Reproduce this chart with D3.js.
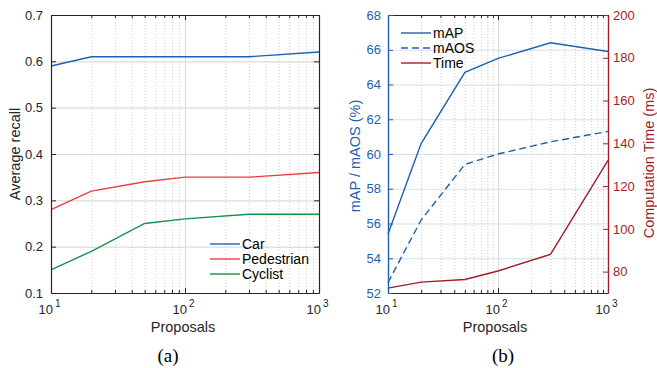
<!DOCTYPE html>
<html>
<head>
<meta charset="utf-8">
<script src="https://cdn.jsdelivr.net/npm/d3@7"></script>
<style>
  body { margin: 0; background: #fff; }
  text { font-family: "Liberation Sans", Arial, sans-serif; }
</style>
</head>
<body>
<script>
// data
var proposals = [10, 20, 50, 100, 300, 1000];
var carRecall = [0.59, 0.61, 0.61, 0.61, 0.61, 0.62];
var pedRecall = [0.28, 0.32, 0.34, 0.35, 0.35, 0.36];
var cycRecall = [0.15, 0.19, 0.25, 0.26, 0.27, 0.27];
var mapVals = [55.4, 60.6, 64.7, 65.5, 66.4, 65.9];
var maosVals = [52.6, 56.2, 59.4, 60.0, 60.7, 61.3];
var timeVals = [72.3, 75.1, 76.3, 80.3, 88.1, 132];

var decadeTicks = [10, 100, 1000];
var minorTicks = [20, 30, 40, 50, 60, 70, 80, 90, 200, 300, 400, 500, 600, 700, 800, 900];
var recallTicks = [0.1, 0.2, 0.3, 0.4, 0.5, 0.6, 0.7];
var mapTicks = [52, 54, 56, 58, 60, 62, 64, 66, 68];
var timeTicks = [80, 100, 120, 140, 160, 180, 200];

var axisGray = "#262626";
var blue = "#1f5fb0";
var red = "#a21d2a";

var svg = d3.select("body").append("svg").attr("width", 657).attr("height", 368);

var plotTop = 15, plotBottom = 293;

function xGrid(g, x, h) {
    g.append("g").attr("transform", "translate(0," + plotBottom + ")")
        .call(d3.axisBottom(x).tickValues(minorTicks).tickSize(-h).tickFormat(""))
        .call(function (s) {
            s.select(".domain").remove();
            s.selectAll("line").attr("stroke", "#cfcfcf").attr("stroke-dasharray", "1,2");
        });
    g.append("g").attr("transform", "translate(0," + plotBottom + ")")
        .call(d3.axisBottom(x).tickValues([100]).tickSize(-h).tickFormat(""))
        .call(function (s) {
            s.select(".domain").remove();
            s.selectAll("line").attr("stroke", "#dcdcdc").attr("stroke-width", 1.2);
        });
}

function xAxes(g, x) {
    // bottom axis, inward ticks
    var b = g.append("g").attr("transform", "translate(0," + plotBottom + ")");
    b.call(d3.axisBottom(x).tickValues(decadeTicks).tickSizeInner(-5).tickSizeOuter(0).tickFormat(""));
    b.append("g").call(d3.axisBottom(x).tickValues(minorTicks).tickSizeInner(-3).tickSizeOuter(0).tickFormat(""))
        .select(".domain").remove();
    b.selectAll("line").attr("stroke", axisGray);
    b.select(".domain").attr("stroke", axisGray).attr("stroke-width", 1.2);
    b.selectAll(".tick").filter(function (d) { return decadeTicks.indexOf(d) >= 0; })
        .append("text")
        .attr("y", 21).attr("fill", axisGray).attr("font-size", 13).attr("text-anchor", "middle")
        .each(function (d) {
            var t = d3.select(this);
            t.append("tspan").attr("dx", -2).text("10");
            t.append("tspan").attr("dy", -7).attr("font-size", 10).attr("dx", 2)
                .text(Math.round(Math.log10(d)));
        });
    // top axis
    var t = g.append("g").attr("transform", "translate(0," + plotTop + ")");
    t.call(d3.axisTop(x).tickValues(decadeTicks).tickSizeInner(-5).tickSizeOuter(0).tickFormat(""));
    t.append("g").call(d3.axisTop(x).tickValues(minorTicks).tickSizeInner(-3).tickSizeOuter(0).tickFormat(""))
        .select(".domain").remove();
    t.selectAll("line").attr("stroke", axisGray);
    t.select(".domain").attr("stroke", axisGray).attr("stroke-width", 1.2);
}

function lineFor(x, y) {
    return d3.line().x(function (d) { return x(d[0]); }).y(function (d) { return y(d[1]); });
}

// ---------- panel (a) ----------
var ga = svg.append("g");
var xa = d3.scaleLog().domain([10, 1000]).range([51, 319]);
var ya = d3.scaleLinear().domain([0.1, 0.7]).range([plotBottom, plotTop]);

ga.append("g").attr("transform", "translate(51,0)")
    .call(d3.axisLeft(ya).tickValues(recallTicks).tickSize(-268).tickFormat(""))
    .call(function (s) {
        s.select(".domain").remove();
        s.selectAll("line").attr("stroke", "#dcdcdc").attr("stroke-width", 1.2);
    });
xGrid(ga, xa, plotBottom - plotTop);

var seriesA = [
    { name: "Car", vals: carRecall, color: blue },
    { name: "Pedestrian", vals: pedRecall, color: "#f03c3c" },
    { name: "Cyclist", vals: cycRecall, color: "#12924a" }
];
seriesA.forEach(function (s) {
    ga.append("path")
        .datum(proposals.map(function (p, i) { return [p, s.vals[i]]; }))
        .attr("d", lineFor(xa, ya))
        .attr("fill", "none").attr("stroke", s.color).attr("stroke-width", 1.4);
});

xAxes(ga, xa);
var la = ga.append("g").attr("transform", "translate(51,0)")
    .call(d3.axisLeft(ya).tickValues(recallTicks).tickSizeInner(-5).tickSizeOuter(0).tickPadding(8)
        .tickFormat(d3.format(".1f")));
la.select(".domain").attr("stroke", axisGray).attr("stroke-width", 1.2);
la.selectAll("line").attr("stroke", axisGray);
la.selectAll("text").attr("fill", axisGray).attr("font-size", 13);
var ra = ga.append("g").attr("transform", "translate(319,0)")
    .call(d3.axisRight(ya).tickValues(recallTicks).tickSizeInner(-5).tickSizeOuter(0).tickFormat(""));
ra.select(".domain").attr("stroke", axisGray).attr("stroke-width", 1.2);
ra.selectAll("line").attr("stroke", axisGray);

// legend (a)
seriesA.forEach(function (s, i) {
    var y = 244 + i * 15;
    ga.append("line").attr("x1", 210).attr("x2", 240).attr("y1", y).attr("y2", y)
        .attr("stroke", s.color).attr("stroke-width", 1.4);
    ga.append("text").attr("x", 242).attr("y", y).attr("dy", "0.35em")
        .attr("font-size", 14).attr("fill", "#000").text(s.name);
});

ga.append("text").attr("transform", "translate(15,154) rotate(-90)").attr("text-anchor", "middle")
    .attr("dy", "0.35em").attr("font-size", 14.5).attr("fill", axisGray).text("Average recall");
ga.append("text").attr("x", 183).attr("y", 332).attr("text-anchor", "middle")
    .attr("font-size", 14.5).attr("fill", axisGray).text("Proposals");
ga.append("text").attr("x", 168).attr("y", 362).attr("text-anchor", "middle")
    .attr("font-size", 19).attr("fill", "#000").style("font-family", "'Liberation Serif', 'Times New Roman', serif")
    .text("(a)");

// ---------- panel (b) ----------
var gb = svg.append("g");
var xb = d3.scaleLog().domain([10, 1000]).range([388, 608]);
var yb = d3.scaleLinear().domain([52, 68]).range([plotBottom, plotTop]);
var yt = d3.scaleLinear().domain([70, 200]).range([plotBottom, plotTop]);

gb.append("g").attr("transform", "translate(388,0)")
    .call(d3.axisLeft(yb).tickValues(mapTicks).tickSize(-220).tickFormat(""))
    .call(function (s) {
        s.select(".domain").remove();
        s.selectAll("line").attr("stroke", "#d5e0ee").attr("stroke-width", 1.2);
    });
xGrid(gb, xb, plotBottom - plotTop);

function ptsB(vals) { return proposals.map(function (p, i) { return [p, vals[i]]; }); }

gb.append("path").datum(ptsB(mapVals)).attr("d", lineFor(xb, yb))
    .attr("fill", "none").attr("stroke", blue).attr("stroke-width", 1.4);
gb.append("path").datum(ptsB(maosVals)).attr("d", lineFor(xb, yb))
    .attr("fill", "none").attr("stroke", blue).attr("stroke-width", 1.4).attr("stroke-dasharray", "7,4");
gb.append("path").datum(ptsB(timeVals)).attr("d", lineFor(xb, yt))
    .attr("fill", "none").attr("stroke", red).attr("stroke-width", 1.4);

xAxes(gb, xb);
var lb = gb.append("g").attr("transform", "translate(388,0)")
    .call(d3.axisLeft(yb).tickValues(mapTicks).tickSizeInner(-5).tickSizeOuter(0).tickPadding(7));
lb.select(".domain").attr("stroke", blue).attr("stroke-width", 1.4);
lb.selectAll("line").attr("stroke", blue);
lb.selectAll("text").attr("fill", blue).attr("font-size", 13);
var rb = gb.append("g").attr("transform", "translate(608,0)")
    .call(d3.axisRight(yt).tickValues(timeTicks).tickSizeInner(-5).tickSizeOuter(0).tickPadding(5));
rb.select(".domain").attr("stroke", red).attr("stroke-width", 1.4);
rb.selectAll("line").attr("stroke", red);
rb.selectAll("text").attr("fill", red).attr("font-size", 13);

// legend (b)
var legB = [
    { name: "mAP", color: blue, dash: null },
    { name: "mAOS", color: blue, dash: "7,4" },
    { name: "Time", color: red, dash: null }
];
legB.forEach(function (s, i) {
    var y = 33 + i * 15;
    gb.append("line").attr("x1", 401).attr("x2", 431).attr("y1", y).attr("y2", y)
        .attr("stroke", s.color).attr("stroke-width", 1.4).attr("stroke-dasharray", s.dash);
    gb.append("text").attr("x", 433).attr("y", y).attr("dy", "0.35em")
        .attr("font-size", 14).attr("fill", "#000").text(s.name);
});

gb.append("text").attr("transform", "translate(355,156) rotate(-90)").attr("text-anchor", "middle")
    .attr("dy", "0.35em").attr("font-size", 14.5).attr("fill", blue).text("mAP / mAOS (%)");
gb.append("text").attr("transform", "translate(649,163) rotate(-90)").attr("text-anchor", "middle")
    .attr("dy", "0.35em").attr("font-size", 14.5).attr("fill", red).text("Computation Time (ms)");
gb.append("text").attr("x", 495).attr("y", 332).attr("text-anchor", "middle")
    .attr("font-size", 14.5).attr("fill", axisGray).text("Proposals");
gb.append("text").attr("x", 503).attr("y", 362).attr("text-anchor", "middle")
    .attr("font-size", 19).attr("fill", "#000").style("font-family", "'Liberation Serif', 'Times New Roman', serif")
    .text("(b)");
</script>
</body>
</html>
